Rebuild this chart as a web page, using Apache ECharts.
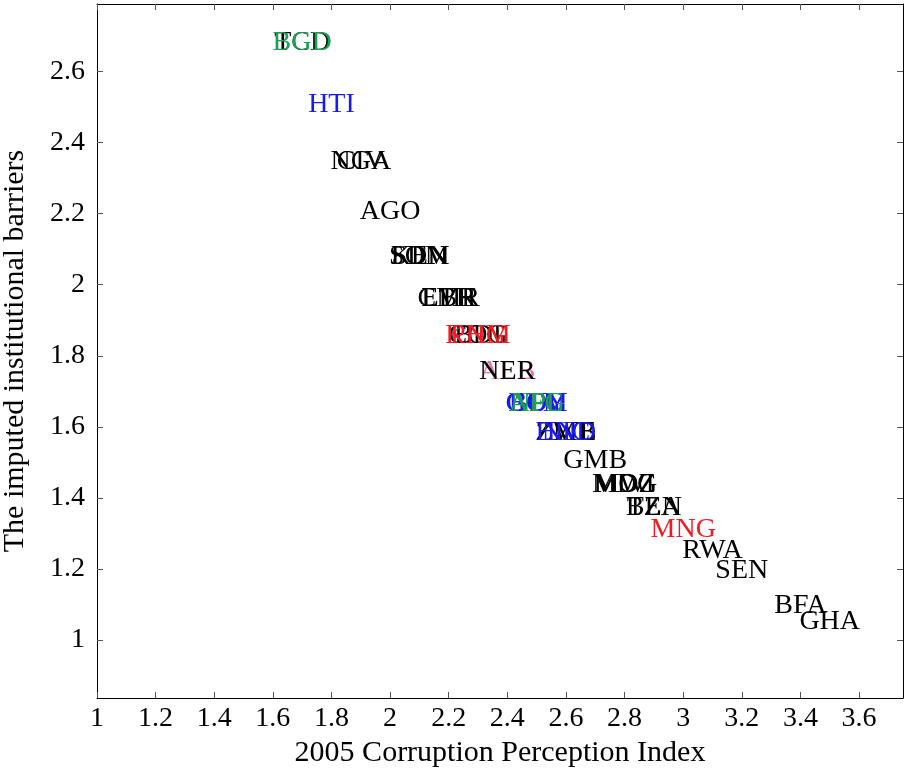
<!DOCTYPE html>
<html>
<head>
<meta charset="utf-8">
<script src="https://cdn.jsdelivr.net/npm/echarts@6/dist/echarts.min.js"></script>
<style>
  html, body { margin: 0; padding: 0; background: #fff; }
  #chart { width: 904px; height: 771px; }
</style>
</head>
<body>
<div id="chart"></div>
<script>
// Country codes, 2005 CPI score and imputed barrier value, plus the regional colour group
const codes   = ['TCD','BGD','HTI','NGA','CIV','AGO','SDN','SOM','KEN','CMR','ETH','LBR','BDI','COG','KHM','PNG','NER','ALB','ECU','GTM','GUY','BOL','AFG','NPL','ZWE','ZMB','HND','NIC','GMB','MDG','MOZ','MWI','BEN','TZA','MNG','RWA','SEN','BFA','GHA'];
const cpi     = [1.7, 1.7, 1.8, 1.9, 1.9, 2.0, 2.1, 2.1, 2.1, 2.2, 2.2, 2.2, 2.3, 2.3, 2.3, 2.3, 2.4, 2.4, 2.5, 2.5, 2.5, 2.5, 2.5, 2.5, 2.6, 2.6, 2.6, 2.6, 2.7, 2.8, 2.8, 2.8, 2.9, 2.9, 3.0, 3.1, 3.2, 3.4, 3.5];
const barrier = [2.68, 2.68, 2.507, 2.346, 2.346, 2.206, 2.079, 2.079, 2.079, 1.96, 1.96, 1.96, 1.856, 1.856, 1.856, 1.856, 1.755, 1.755, 1.665, 1.665, 1.665, 1.665, 1.665, 1.665, 1.583, 1.583, 1.583, 1.583, 1.504, 1.437, 1.437, 1.437, 1.372, 1.372, 1.31, 1.251, 1.194, 1.096, 1.051];
const region  = ['SSA','SA','LAC','SSA','SSA','SSA','SSA','SSA','SSA','SSA','SSA','SSA','SSA','SSA','EAP','EAP','SSA','ECA','LAC','LAC','LAC','LAC','SA','SA','SSA','SSA','LAC','LAC','SSA','SSA','SSA','SSA','SSA','SSA','EAP','SSA','SSA','SSA','SSA'];

// Drawing order of the colour groups (later groups sit on top)
const regionOrder  = ['ECA','SSA','EAP','LAC','SA'];
const regionColors = { SSA: '#000000', ECA: '#df7aa2', EAP: '#ee1c24', LAC: '#1a1aee', SA: '#1e9e57' };

const xTicks = [1, 1.2, 1.4, 1.6, 1.8, 2, 2.2, 2.4, 2.6, 2.8, 3, 3.2, 3.4, 3.6];
const yTicks = [1, 1.2, 1.4, 1.6, 1.8, 2, 2.2, 2.4, 2.6];

const FONT = '"Liberation Serif", "DejaVu Serif", serif';
const FS = 28;
const FS_TITLE = 30;

const series = regionOrder.map(r => ({
  type: 'scatter',
  name: r,
  symbol: 'circle',
  symbolSize: 2,
  itemStyle: { color: 'rgba(0,0,0,0)', opacity: 1 },
  label: {
    show: true,
    position: 'inside',
    formatter: p => p.value[2],
    color: regionColors[r],
    opacity: 1,
    fontFamily: FONT,
    fontSize: FS
  },
  emphasis: { disabled: true },
  data: codes.map((c, i) => region[i] === r ? [cpi[i], barrier[i], c] : null).filter(Boolean)
}));

function boxAxis(extra) {
  return Object.assign({
    type: 'value',
    splitLine: { show: false },
    axisLine: { show: true, onZero: false, lineStyle: { color: '#000', width: 1 } }
  }, extra);
}
const tickStyle = vals => ({ show: true, inside: true, length: 6, lineStyle: { color: '#555' }, customValues: vals });

const chart = echarts.init(document.getElementById('chart'));
chart.setOption({
  animation: false,
  backgroundColor: '#fff',
  grid: { left: 97, right: 1, top: 4, bottom: 73, outerBoundsMode: 'none', containLabel: false },
  xAxis: [
    boxAxis({
      position: 'bottom', min: 1, max: 3.75,
      name: '2005 Corruption Perception Index',
      nameLocation: 'middle', nameGap: 40,
      nameTextStyle: { fontFamily: FONT, fontSize: FS_TITLE, color: '#000' },
      axisTick: tickStyle(xTicks),
      axisLabel: { customValues: xTicks, fontFamily: FONT, fontSize: FS, color: '#000', margin: 7 }
    }),
    boxAxis({
      position: 'top', min: 1, max: 3.75,
      axisTick: tickStyle(xTicks),
      axisLabel: { show: false }
    })
  ],
  yAxis: [
    boxAxis({
      position: 'left', min: 0.837, max: 2.79,
      name: 'The imputed institutional barriers',
      nameLocation: 'middle', nameGap: 67,
      nameTextStyle: { fontFamily: FONT, fontSize: FS_TITLE, color: '#000' },
      axisTick: tickStyle(yTicks),
      axisLabel: { customValues: yTicks, fontFamily: FONT, fontSize: FS, color: '#000', margin: 12 }
    }),
    boxAxis({
      position: 'right', min: 0.837, max: 2.79,
      axisTick: tickStyle(yTicks),
      axisLabel: { show: false }
    })
  ],
  series: series
});
</script>
</body>
</html>
